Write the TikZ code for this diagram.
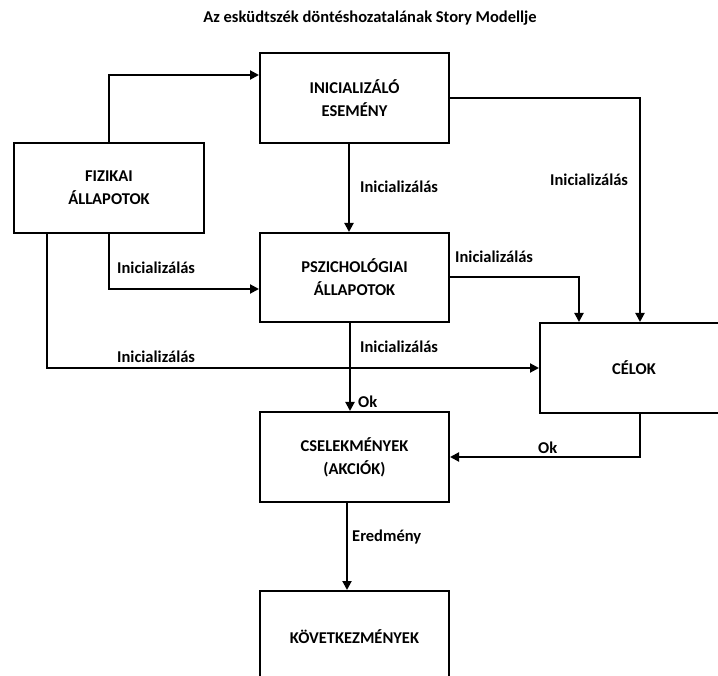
\documentclass[tikz,border=0pt]{standalone}
\usepackage{fontspec}
\setmainfont{Carlito}
\usetikzlibrary{arrows.meta}
\begin{document}
\begin{tikzpicture}[x=1pt,y=-1pt,
  box/.style={draw, line width=2pt, rectangle, align=center,
    font=\bfseries\fontsize{16.5}{23}\selectfont, inner sep=0pt},
  arr/.style={draw, line width=2pt,
    -{Triangle[length=9pt,width=9pt]}},
  lbl/.style={anchor=west, inner sep=0pt,
    font=\bfseries\fontsize{16.5}{20}\selectfont}]
\useasboundingbox (0,0) rectangle (718,676);
\clip (0,0) rectangle (718,676);

% title
\node[font=\bfseries\fontsize{16.5}{20}\selectfont] (title) at (370,18)
  {Az esküdtszék döntéshozatalának Story Modellje};

% boxes
\node[box, minimum width=189pt, minimum height=90pt] (ini) at (354.5,98)
  {INICIALIZÁLÓ\\ESEMÉNY};
\node[box, minimum width=190pt, minimum height=90pt] (fiz) at (109,188)
  {FIZIKAI\\ÁLLAPOTOK};
\node[box, minimum width=189pt, minimum height=89pt] (psz) at (354.5,277.5)
  {PSZICHOLÓGIAI\\ÁLLAPOTOK};
\node[box, minimum width=188pt, minimum height=90pt] (cel) at (634,368)
  {CÉLOK};
\node[box, minimum width=189pt, minimum height=90pt] (csel) at (354.5,457)
  {CSELEKMÉNYEK\\(AKCIÓK)};
\node[box, minimum width=189pt, minimum height=92pt] (kov) at (354.5,637)
  {KÖVETKEZMÉNYEK};

% connectors
\draw[arr] (fiz.north) |- ([yshift=23pt]ini.west);
\draw[arr] (fiz.south) |- ([yshift=-11.5pt]psz.west);
\draw[arr] ([xshift=-62pt]fiz.south) |- (cel.west);
\draw[arr] ([xshift=-5.5pt]ini.south) -- ([xshift=-5.5pt]ini.south |- psz.north);
\draw[arr] (ini.east) -| ([xshift=6pt]cel.north);
\draw[arr] (psz.east) -| ([xshift=-55pt]cel.north);
\draw[arr] ([xshift=-4.5pt]psz.south) -- ([xshift=-4.5pt]psz.south |- csel.north);
\draw[arr] ([xshift=6pt]cel.south) |- (csel.east);
\draw[arr] ([xshift=-7.5pt]csel.south) -- ([xshift=-7.5pt]csel.south |- kov.north);

% connector labels
\node[lbl] (l1) at (360,187) {Inicializálás};
\node[lbl] (l2) at (550,180) {Inicializálás};
\node[lbl] (l3) at (117,268) {Inicializálás};
\node[lbl] (l4) at (455,257) {Inicializálás};
\node[lbl] (l5) at (117,357) {Inicializálás};
\node[lbl] (l6) at (360,347) {Inicializálás};
\node[lbl] (l7) at (358,402) {Ok};
\node[lbl] (l8) at (538,448) {Ok};
\node[lbl] (l9) at (352,537) {Eredmény};
\end{tikzpicture}
\end{document}
